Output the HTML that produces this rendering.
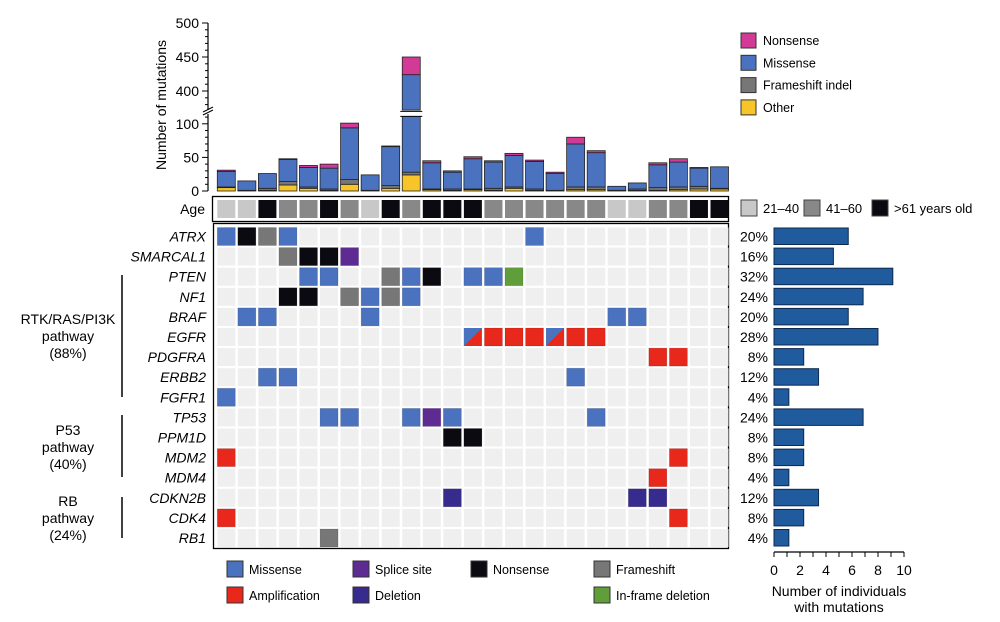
<!DOCTYPE html>
<html><head><meta charset="utf-8"><style>
html,body{margin:0;padding:0;background:#fff;}
svg{display:block;font-family:"Liberation Sans",Arial,sans-serif;}
</style></head><body>
<svg id="chart" width="1000" height="622" viewBox="0 0 1000 622" xmlns="http://www.w3.org/2000/svg">
<g id="gtop"></g>
<g id="gage"></g>
<g id="ggrid"></g>
<g id="gright"></g>
<g id="glabels"></g>
<g id="glegends"></g>
</svg>
<script>
// ---------- data ----------
const patients = ["P1","P2","P3","P4","P5","P6","P7","P8","P9","P10","P11","P12","P13","P14","P15","P16","P17","P18","P19","P20","P21","P22","P23","P24","P25"];
const otherVals      = [5,1,1,9,4,1,10,1,4,24,2,1,2,1,4,1,0,2,2,0,1,1,2,3,3];
const frameshiftVals = [1,0,3,5,2,2,7,0,4,4,1,2,1,3,2,2,1,4,4,1,2,4,4,4,1];
const missenseVals   = [23,14,22,33,29,31,77,23,58,396,39,25,45,39,47,41,25,64,51,6,9,34,37,27,32];
const nonsenseVals   = [2,0,0,1,3,6,7,0,1,26,3,2,3,2,3,2,2,10,3,0,0,3,5,1,0];
const yTicksLow = [0,50,100];
const yTicksHigh = [400,450,500];
const ageGroups = [0,0,2,1,1,2,1,0,2,1,2,2,2,1,1,1,1,1,1,0,0,1,1,2,2];
const genes = ["ATRX","SMARCAL1","PTEN","NF1","BRAF","EGFR","PDGFRA","ERBB2","FGFR1","TP53","PPM1D","MDM2","MDM4","CDKN2B","CDK4","RB1"];
const geneCounts = [5,4,8,6,5,7,2,3,1,6,2,2,1,3,2,1];
const genePct = ["20%","16%","32%","24%","20%","28%","8%","12%","4%","24%","8%","8%","4%","12%","8%","4%"];
const xTicks = [0,2,4,6,8,10];
const alterations = [
[0,0,"mis"],[0,1,"non"],[0,2,"fs"],[0,3,"mis"],[0,15,"mis"],
[1,3,"fs"],[1,4,"non"],[1,5,"non"],[1,6,"spl"],
[2,4,"mis"],[2,5,"mis"],[2,8,"fs"],[2,9,"mis"],[2,10,"non"],[2,12,"mis"],[2,13,"mis"],[2,14,"ifd"],
[3,3,"non"],[3,4,"non"],[3,6,"fs"],[3,7,"mis"],[3,8,"fs"],[3,9,"mis"],
[4,1,"mis"],[4,2,"mis"],[4,7,"mis"],[4,19,"mis"],[4,20,"mis"],
[5,12,"misamp"],[5,13,"amp"],[5,14,"amp"],[5,15,"amp"],[5,16,"misamp"],[5,17,"amp"],[5,18,"amp"],
[6,21,"amp"],[6,22,"amp"],
[7,2,"mis"],[7,3,"mis"],[7,17,"mis"],
[8,0,"mis"],
[9,5,"mis"],[9,6,"mis"],[9,9,"mis"],[9,10,"spl"],[9,11,"mis"],[9,18,"mis"],
[10,11,"non"],[10,12,"non"],
[11,0,"amp"],[11,22,"amp"],
[12,21,"amp"],
[13,11,"del"],[13,20,"del"],[13,21,"del"],
[14,0,"amp"],[14,22,"amp"],
[15,5,"fs"]
];
// ---------- styles ----------
const C = {mis:"#4a72bf",non:"#0a0a10",fs:"#777",spl:"#5e2b92",amp:"#e8281a",del:"#372b8e",ifd:"#5f9e3a",
  nons:"#d23a96",oth:"#f7c52a"};
const ageCol = ["#c8c8c8","#888","#0a0a10"];
const NS="http://www.w3.org/2000/svg";
function mk(parent,tag,attrs,name,text){const e=document.createElementNS(NS,tag);for(const k in attrs)e.setAttribute(k,attrs[k]);
 
 
 if(text!==undefined)e.textContent=text;parent.appendChild(e);return e;}
const colX = i => 217.3 + i*20.55;
const CW = 18;
const rowY = r => 227.5 + r*20.1;
const RH = 18;
function yScale(v){ if(v<=115) return 191 - v*0.672; return 91 - (v-400)*0.68; }
const BREAK_LO=114, BREAK_HI=372;
const AX=208;
// ---------- top stacked bars ----------
const gTop=document.getElementById('gtop');
mk(gTop,'line',{x1:AX,y1:191,x2:AX,y2:114,stroke:'#000','stroke-width':1.2},'y-axis-lower');
mk(gTop,'line',{x1:AX,y1:110,x2:AX,y2:23,stroke:'#000','stroke-width':1.2},'y-axis-upper');
mk(gTop,'path',{d:`M${AX-5},115 L${AX+5},110 M${AX-5},112 L${AX+5},107`,stroke:'#000','stroke-width':1,fill:'none'},'axis-break-mark');
for(let v=0;v<=110;v+=10){const y=yScale(v);mk(gTop,'line',{x1:v%50==0?AX-6:AX-3,x2:AX,y1:y,y2:y,stroke:'#000','stroke-width':1},'y-tick');}
for(let v=380;v<=500;v+=10){const y=yScale(v);mk(gTop,'line',{x1:v%50==0?AX-6:AX-3,x2:AX,y1:y,y2:y,stroke:'#000','stroke-width':1},'y-tick');}
yTicksLow.concat(yTicksHigh).forEach(v=>mk(gTop,'text',{x:199,y:yScale(v)+5,'text-anchor':'end','font-size':14},'y-tick-label',String(v)));
mk(gTop,'text',{x:0,y:0,transform:'translate(166,105) rotate(-90)','text-anchor':'middle','font-size':14},'y-axis-title','Number of mutations');
patients.forEach((p,i)=>{
  const segs=[[otherVals[i],C.oth,'other'],[frameshiftVals[i],C.fs,'frameshift'],[missenseVals[i],C.mis,'missense'],[nonsenseVals[i],C.nons,'nonsense']];
  let acc=0;const x=colX(i);
  segs.forEach(s=>{
    if(s[0]<=0)return;
    const a=acc,b=acc+s[0];acc=b;
    if(b>BREAK_LO && a<BREAK_HI){
      const y1=yScale(a),y2=yScale(BREAK_LO);
      if(y1>y2) mk(gTop,'rect',{x:x,y:y2,width:CW,height:y1-y2,fill:s[1],stroke:'#222','stroke-width':0.8},'bar-'+s[2]+'-'+p);
      const y3=yScale(Math.max(BREAK_HI,a)),y4=yScale(b);
      if(b>BREAK_HI) mk(gTop,'rect',{x:x,y:y4,width:CW,height:y3-y4,fill:s[1],stroke:'#222','stroke-width':0.8},'bar-'+s[2]+'-'+p);
    } else {
      const y1=yScale(a),y2=yScale(b);
      mk(gTop,'rect',{x:x,y:y2,width:CW,height:y1-y2,fill:s[1],stroke:'#222','stroke-width':0.8},'bar-'+s[2]+'-'+p);
    }
  });
  const tot=acc;
  if(tot>BREAK_HI){mk(gTop,'rect',{x:x-2,y:yScale(BREAK_LO)-3,width:CW+4,height:5,fill:'#fff'},'bar-break-gap');
   mk(gTop,'line',{x1:x-2,x2:x+CW+2,y1:yScale(BREAK_LO)-3,y2:yScale(BREAK_LO)-3,stroke:'#000','stroke-width':1},'bar-break-line');
   mk(gTop,'line',{x1:x-2,x2:x+CW+2,y1:yScale(BREAK_LO)+2,y2:yScale(BREAK_LO)+2,stroke:'#000','stroke-width':1},'bar-break-line');}
});
// ---------- age row ----------
const gAge=document.getElementById('gage');
mk(gAge,'rect',{x:212.5,y:196.5,width:516,height:25,fill:'#fff',stroke:'#000','stroke-width':1.3},'age-row-frame');
mk(gAge,'text',{x:205,y:214,'text-anchor':'end','font-size':14},'age-label','Age');
ageGroups.forEach((g,i)=>mk(gAge,'rect',{x:colX(i),y:200,width:CW,height:18,fill:ageCol[g]},'age-cell'));
// ---------- grid ----------
const gGrid=document.getElementById('ggrid');
mk(gGrid,'rect',{x:213.5,y:223.5,width:515,height:325,fill:'#fff',stroke:'#000','stroke-width':1.3},'grid-frame');
genes.forEach((g,r)=>patients.forEach((p,i)=>mk(gGrid,'rect',{x:colX(i),y:rowY(r),width:CW,height:RH,fill:'#efefef'},'empty-cell')));
alterations.forEach(a=>{
  const x=colX(a[1]),y=rowY(a[0]);const nm=genes[a[0]]+'-'+patients[a[1]];
  if(a[2]==='misamp'){
    mk(gGrid,'rect',{x:x,y:y,width:CW,height:RH,fill:C.amp},'cell-amplification-'+nm);
    mk(gGrid,'path',{d:`M${x},${y} L${x+CW},${y} L${x},${y+RH} Z`,fill:C.mis},'cell-missense-'+nm);
  } else mk(gGrid,'rect',{x:x,y:y,width:CW,height:RH,fill:C[a[2]],stroke:'rgba(0,0,0,0.15)','stroke-width':0.8},'cell-'+a[2]+'-'+nm);
});
// ---------- gene labels & pathways ----------
const gLab=document.getElementById('glabels');
genes.forEach((g,r)=>mk(gLab,'text',{x:206,y:rowY(r)+14,'text-anchor':'end','font-size':14,'font-style':'italic'},'gene-label',g));
const pathwayDefs=[[275,397,["RTK/RAS/PI3K","pathway","(88%)"],324],[415,477,["P53","pathway","(40%)"],435],[497,538,["RB","pathway","(24%)"],506]];
pathwayDefs.forEach(p=>{mk(gLab,'line',{x1:122,x2:122,y1:p[0],y2:p[1],stroke:'#000','stroke-width':1.5},'pathway-bracket');
  p[2].forEach((t,k)=>mk(gLab,'text',{x:68,y:p[3]+k*17,'text-anchor':'middle','font-size':14},'pathway-label',t));});
// ---------- right bar chart ----------
const gRight=document.getElementById('gright');
const bx0=774, barUnit=14.85, axisUnit=13;
geneCounts.forEach((v,r)=>{
  mk(gRight,'text',{x:768,y:rowY(r)+14,'text-anchor':'end','font-size':14},'gene-percent',genePct[r]);
  mk(gRight,'rect',{x:bx0,y:rowY(r)+0.5,width:v*barUnit,height:16.5,fill:'#1f5b9d',stroke:'#0d2a50','stroke-width':1},'gene-count-bar-'+genes[r]);
});
mk(gRight,'line',{x1:bx0,x2:bx0+10*axisUnit,y1:552,y2:552,stroke:'#000','stroke-width':1.2},'x-axis');
for(let v=0;v<=10;v++){mk(gRight,'line',{x1:bx0+v*axisUnit,x2:bx0+v*axisUnit,y1:552,y2:557,stroke:'#000','stroke-width':1},'x-tick');}
xTicks.forEach(v=>mk(gRight,'text',{x:bx0+v*axisUnit,y:575,'text-anchor':'middle','font-size':14},'x-tick-label',String(v)));
mk(gRight,'text',{x:839,y:596,'text-anchor':'middle','font-size':14},'x-axis-title','Number of individuals');
mk(gRight,'text',{x:839,y:612,'text-anchor':'middle','font-size':14},'x-axis-title','with mutations');
// ---------- legends ----------
const gLeg=document.getElementById('glegends');
const topLeg=[["Nonsense",C.nons],["Missense",C.mis],["Frameshift indel",C.fs],["Other",C.oth]];
topLeg.forEach((l,k)=>{const y=33+k*22.3;mk(gLeg,'rect',{x:741,y:y,width:15,height:15,fill:l[1],stroke:'#333','stroke-width':1},'legend-swatch');
  mk(gLeg,'text',{x:763,y:y+12,'font-size':12.5},'legend-entry',l[0]);});
const ageLeg=[["21–40",ageCol[0],741],["41–60",ageCol[1],804],[">61 years old",ageCol[2],872]];
ageLeg.forEach(l=>{mk(gLeg,'rect',{x:l[2],y:200,width:16,height:16,fill:l[1],stroke:'#444','stroke-width':1},'age-legend-swatch');
  mk(gLeg,'text',{x:l[2]+22,y:213,'font-size':13},'age-legend-entry',l[0]);});
const botLeg=[["Missense",C.mis,227,561],["Splice site",C.spl,353,561],["Nonsense",C.non,471,561],["Frameshift",C.fs,594,561],
  ["Amplification",C.amp,227,587],["Deletion",C.del,353,587],["In-frame deletion",C.ifd,594,587]];
botLeg.forEach(l=>{mk(gLeg,'rect',{x:l[2],y:l[3],width:16,height:16,fill:l[1],stroke:'#333','stroke-width':1},'legend-swatch');
  mk(gLeg,'text',{x:l[2]+22,y:l[3]+13,'font-size':12.5},'legend-entry',l[0]);});
</script>
</body></html>
